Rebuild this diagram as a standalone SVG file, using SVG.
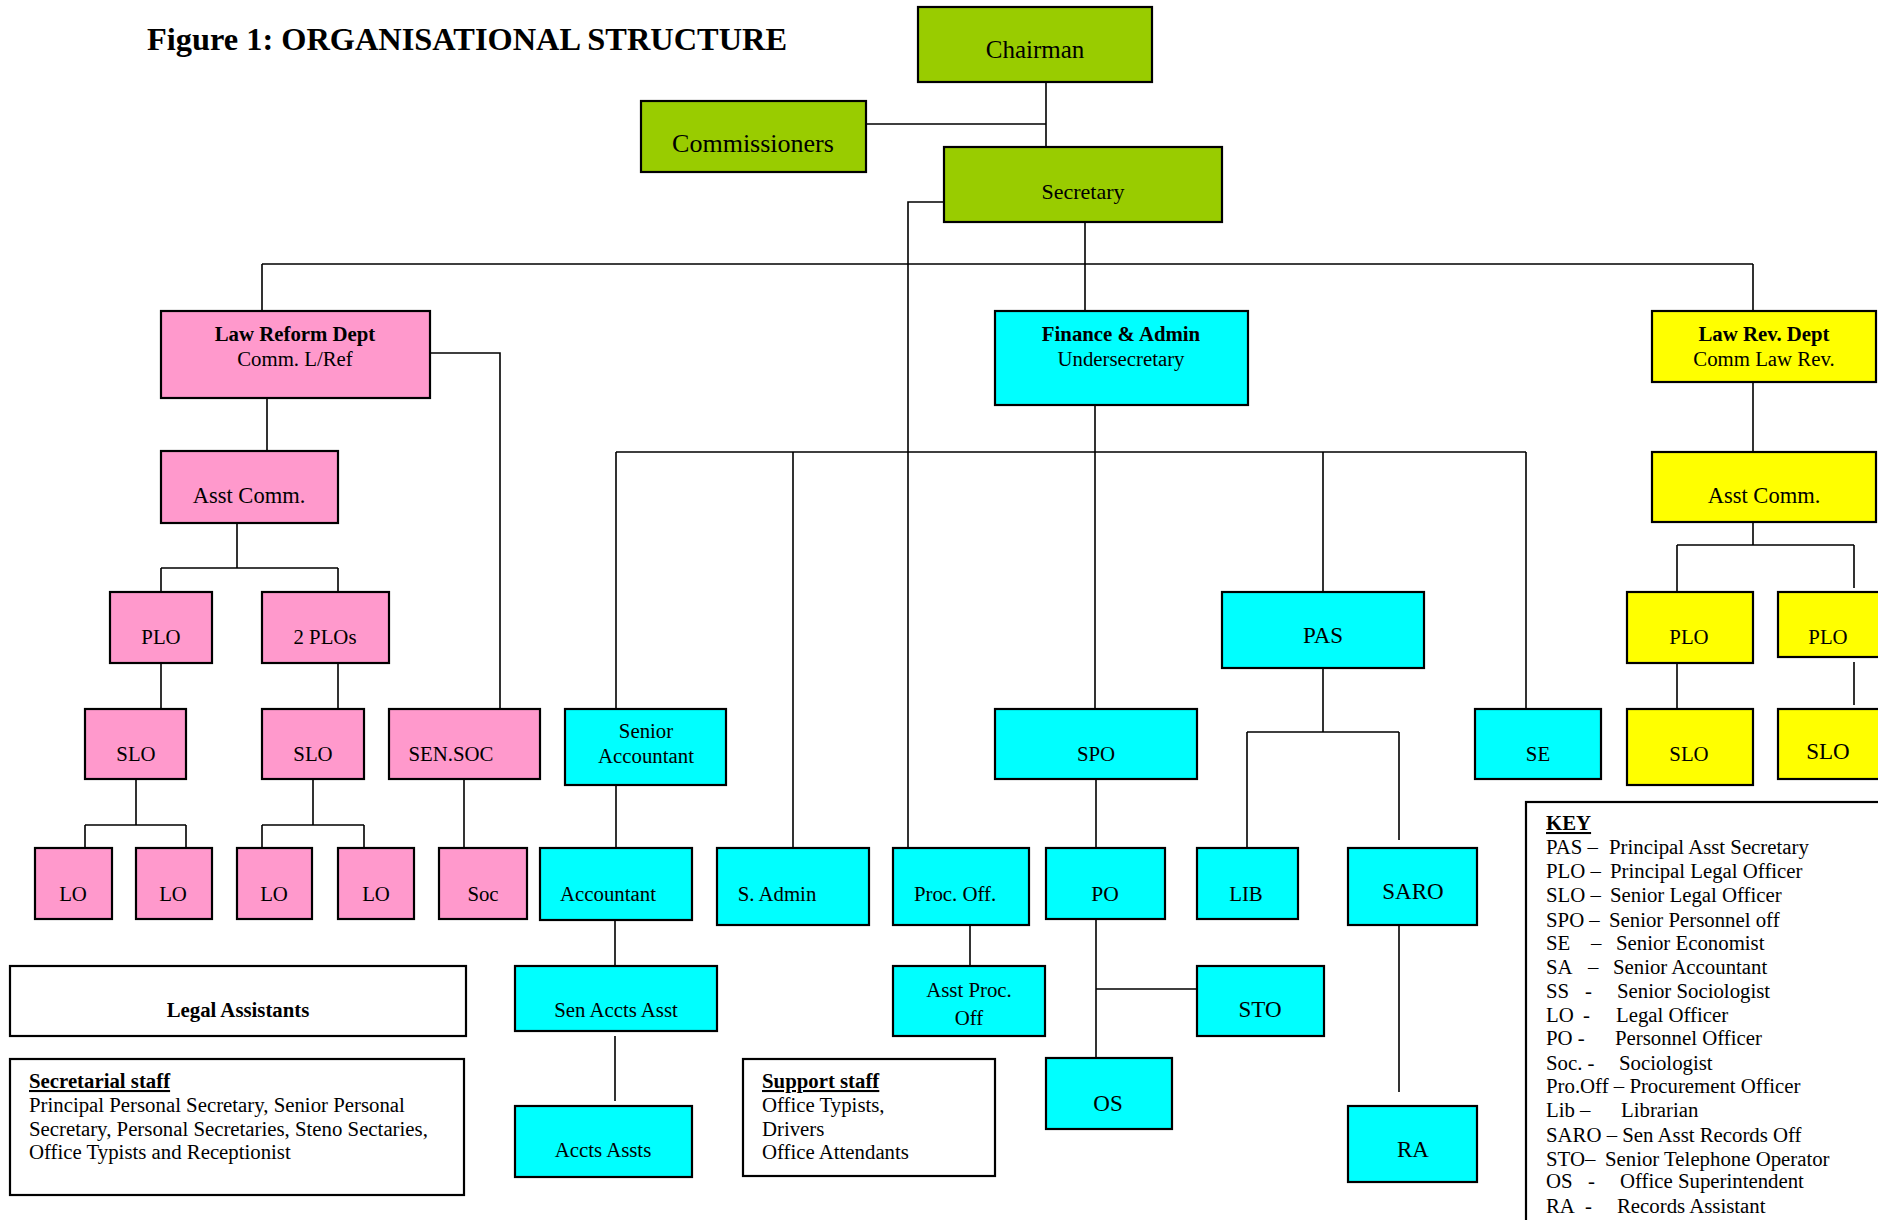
<svg xmlns="http://www.w3.org/2000/svg" width="1878" height="1220" viewBox="0 0 1878 1220">
<style>
text{font-family:"Liberation Serif","Times New Roman",serif;font-size:20.8px;fill:#000}
.c{text-anchor:middle}
.b{font-weight:bold}
.u{text-decoration:underline}
.big{font-size:23px}
rect{stroke:#000;stroke-width:2.2}
rect.bg{stroke:none;fill:#fff}
.g{fill:#99CC00}
.p{fill:#FF99CC}
.cy{fill:#00FFFF}
.y{fill:#FFFF00}
.w{fill:#FFFFFF}
#connectors path{fill:none;stroke:#000;stroke-width:1.6}
</style>
<rect class="bg" x="0" y="0" width="1878" height="1220"/>
<text x="147" y="50" class="b" textLength="640" lengthAdjust="spacingAndGlyphs" style="font-size:32px">Figure 1: ORGANISATIONAL STRUCTURE</text>

<g id="connectors">
<path d="M1046 82V147M866 124H1046"/>
<path d="M944 202H908V848"/>
<path d="M1085 222V311M262 264H1753M262 264V311M1753 264V311"/>
<path d="M430 353H500V709"/>
<path d="M267 398V451M237 523V568M161 568H338M161 568V592M338 568V592"/>
<path d="M161 663V709M338 663V709"/>
<path d="M136 779V825M85 825H186M85 825V848M186 825V848"/>
<path d="M313 779V825M262 825H364M262 825V848M364 825V848"/>
<path d="M464 779V848"/>
<path d="M1095 405V709M616 452H1526M616 452V709M793 452V848M1323 452V592M1526 452V709"/>
<path d="M616 785V848M615 920V966M615 1036V1101"/>
<path d="M970 925V966"/>
<path d="M1096 779V1058M1096 989H1197"/>
<path d="M1323 668V732M1247 732H1399M1247 732V848M1399 732V840M1399 918V1092"/>
<path d="M1753 382V452M1753 522V545M1677 545H1854M1677 545V592M1854 545V588M1677 663V709M1854 662V705"/>
</g>

<g id="chairman"><rect class="g" x="918" y="7" width="234" height="75"/><text class="c" x="1035" y="58" style="font-size:25px">Chairman</text></g>
<g id="commissioners"><rect class="g" x="641" y="101" width="225" height="71"/><text class="c" x="753" y="152" style="font-size:26px">Commissioners</text></g>
<g id="secretary"><rect class="g" x="944" y="147" width="278" height="75"/><text class="c" x="1083" y="199" style="font-size:22px">Secretary</text></g>

<g id="law-reform"><rect class="p" x="161" y="311" width="269" height="87"/><text class="c b" x="295" y="341">Law Reform Dept</text><text class="c" x="295" y="366">Comm. L/Ref</text></g>
<g id="lr-asst-comm"><rect class="p" x="161" y="451" width="177" height="72"/><text class="c" x="249" y="503" style="font-size:22.5px">Asst Comm.</text></g>
<g id="lr-plo"><rect class="p" x="110" y="592" width="102" height="71"/><text class="c" x="161" y="644">PLO</text></g>
<g id="lr-2plos"><rect class="p" x="262" y="592" width="127" height="71"/><text class="c" x="325" y="644">2 PLOs</text></g>
<g id="lr-slo1"><rect class="p" x="85" y="709" width="101" height="70"/><text class="c" x="136" y="761">SLO</text></g>
<g id="lr-slo2"><rect class="p" x="262" y="709" width="102" height="70"/><text class="c" x="313" y="761">SLO</text></g>
<g id="sen-soc"><rect class="p" x="389" y="709" width="151" height="70"/><text class="c" x="451" y="761">SEN.SOC</text></g>
<g id="lo1"><rect class="p" x="35" y="848" width="77" height="71"/><text class="c" x="73" y="901">LO</text></g>
<g id="lo2"><rect class="p" x="136" y="848" width="76" height="71"/><text class="c" x="173" y="901">LO</text></g>
<g id="lo3"><rect class="p" x="237" y="848" width="75" height="71"/><text class="c" x="274" y="901">LO</text></g>
<g id="lo4"><rect class="p" x="338" y="848" width="76" height="71"/><text class="c" x="376" y="901">LO</text></g>
<g id="soc"><rect class="p" x="439" y="848" width="88" height="71"/><text class="c" x="483" y="901">Soc</text></g>

<g id="finance"><rect class="cy" x="995" y="311" width="253" height="94"/><text class="c b" x="1121" y="341">Finance &amp; Admin</text><text class="c" x="1121" y="366">Undersecretary</text></g>
<g id="senior-accountant"><rect class="cy" x="565" y="709" width="161" height="76"/><text class="c" x="646" y="738">Senior</text><text class="c" x="646" y="763">Accountant</text></g>
<g id="accountant"><rect class="cy" x="540" y="848" width="152" height="72"/><text class="c" x="608" y="901">Accountant</text></g>
<g id="sen-accts-asst"><rect class="cy" x="515" y="966" width="202" height="65"/><text class="c" x="616" y="1017">Sen Accts Asst</text></g>
<g id="accts-assts"><rect class="cy" x="515" y="1106" width="177" height="71"/><text class="c" x="603" y="1157">Accts Assts</text></g>
<g id="s-admin"><rect class="cy" x="717" y="848" width="152" height="77"/><text class="c" x="777" y="901">S. Admin</text></g>
<g id="proc-off"><rect class="cy" x="893" y="848" width="136" height="77"/><text class="c" x="955" y="901">Proc. Off.</text></g>
<g id="asst-proc-off"><rect class="cy" x="893" y="966" width="152" height="70"/><text class="c" x="969" y="997">Asst Proc.</text><text class="c" x="969" y="1025">Off</text></g>
<g id="spo"><rect class="cy" x="995" y="709" width="202" height="70"/><text class="c" x="1096" y="761">SPO</text></g>
<g id="po"><rect class="cy" x="1046" y="848" width="119" height="71"/><text class="c" x="1105" y="901" style="font-size:21.5px">PO</text></g>
<g id="sto"><rect class="cy" x="1197" y="966" width="127" height="70"/><text class="c big" x="1260" y="1017">STO</text></g>
<g id="os"><rect class="cy" x="1046" y="1058" width="126" height="71"/><text class="c big" x="1108" y="1111">OS</text></g>
<g id="pas"><rect class="cy" x="1222" y="592" width="202" height="76"/><text class="c big" x="1323" y="643">PAS</text></g>
<g id="lib"><rect class="cy" x="1197" y="848" width="101" height="71"/><text class="c" x="1246" y="901">LIB</text></g>
<g id="saro"><rect class="cy" x="1348" y="848" width="129" height="77"/><text class="c big" x="1413" y="899">SARO</text></g>
<g id="ra"><rect class="cy" x="1348" y="1106" width="129" height="76"/><text class="c big" x="1413" y="1157">RA</text></g>
<g id="se"><rect class="cy" x="1475" y="709" width="126" height="70"/><text class="c" x="1538" y="761">SE</text></g>

<g id="law-rev"><rect class="y" x="1652" y="311" width="224" height="71"/><text class="c b" x="1764" y="341">Law Rev. Dept</text><text class="c" x="1764" y="366">Comm Law Rev.</text></g>
<g id="lrv-asst-comm"><rect class="y" x="1652" y="452" width="224" height="70"/><text class="c" x="1764" y="503" style="font-size:22.5px">Asst Comm.</text></g>
<g id="lrv-plo1"><rect class="y" x="1627" y="592" width="126" height="71"/><text class="c" x="1689" y="644">PLO</text></g>
<g id="lrv-plo2"><rect class="y" x="1778" y="592" width="110" height="65"/><text class="c" x="1828" y="644">PLO</text></g>
<g id="lrv-slo1"><rect class="y" x="1627" y="709" width="126" height="76"/><text class="c" x="1689" y="761">SLO</text></g>
<g id="lrv-slo2"><rect class="y" x="1778" y="709" width="110" height="70"/><text class="c big" x="1828" y="759">SLO</text></g>

<g id="legal-assistants"><rect class="w" x="10" y="966" width="456" height="70"/><text class="c b" x="238" y="1017">Legal Assistants</text></g>
<g id="secretarial-staff"><rect class="w" x="10" y="1059" width="454" height="136"/>
<text x="29" y="1088" class="b u">Secretarial staff</text>
<text x="29" y="1112">Principal Personal Secretary, Senior Personal</text>
<text x="29" y="1136">Secretary, Personal Secretaries, Steno Sectaries,</text>
<text x="29" y="1159">Office Typists and Receptionist</text></g>
<g id="support-staff"><rect class="w" x="743" y="1059" width="252" height="117"/>
<text x="762" y="1088" class="b u">Support staff</text>
<text x="762" y="1112">Office Typists,</text>
<text x="762" y="1136">Drivers</text>
<text x="762" y="1159">Office Attendants</text></g>

<g id="key"><rect class="w" x="1526" y="802" width="400" height="500"/>
<text x="1546" y="830" class="b u">KEY</text>
<text y="854"><tspan x="1546">PAS –</tspan><tspan x="1609">Principal Asst Secretary</tspan></text>
<text y="878"><tspan x="1546">PLO –</tspan><tspan x="1610">Principal Legal Officer</tspan></text>
<text y="902"><tspan x="1546">SLO –</tspan><tspan x="1610">Senior Legal Officer</tspan></text>
<text y="927"><tspan x="1546">SPO –</tspan><tspan x="1609">Senior Personnel off</tspan></text>
<text y="950"><tspan x="1546">SE</tspan><tspan x="1591">–</tspan><tspan x="1616">Senior Economist</tspan></text>
<text y="974"><tspan x="1546">SA</tspan><tspan x="1588">–</tspan><tspan x="1613">Senior Accountant</tspan></text>
<text y="998"><tspan x="1546">SS</tspan><tspan x="1585">-</tspan><tspan x="1617">Senior Sociologist</tspan></text>
<text y="1022"><tspan x="1546">LO</tspan><tspan x="1583">-</tspan><tspan x="1616">Legal Officer</tspan></text>
<text y="1045"><tspan x="1546">PO -</tspan><tspan x="1615">Personnel Officer</tspan></text>
<text y="1070"><tspan x="1546">Soc. -</tspan><tspan x="1619">Sociologist</tspan></text>
<text y="1093"><tspan x="1546">Pro.Off – Procurement Officer</tspan></text>
<text y="1117"><tspan x="1546">Lib –</tspan><tspan x="1621">Librarian</tspan></text>
<text y="1142"><tspan x="1546">SARO – Sen Asst Records Off</tspan></text>
<text y="1166"><tspan x="1546">STO–</tspan><tspan x="1605">Senior Telephone Operator</tspan></text>
<text y="1188"><tspan x="1546">OS</tspan><tspan x="1588">-</tspan><tspan x="1620">Office Superintendent</tspan></text>
<text y="1213"><tspan x="1546">RA</tspan><tspan x="1585">-</tspan><tspan x="1617">Records Assistant</tspan></text>
</g>
</svg>
